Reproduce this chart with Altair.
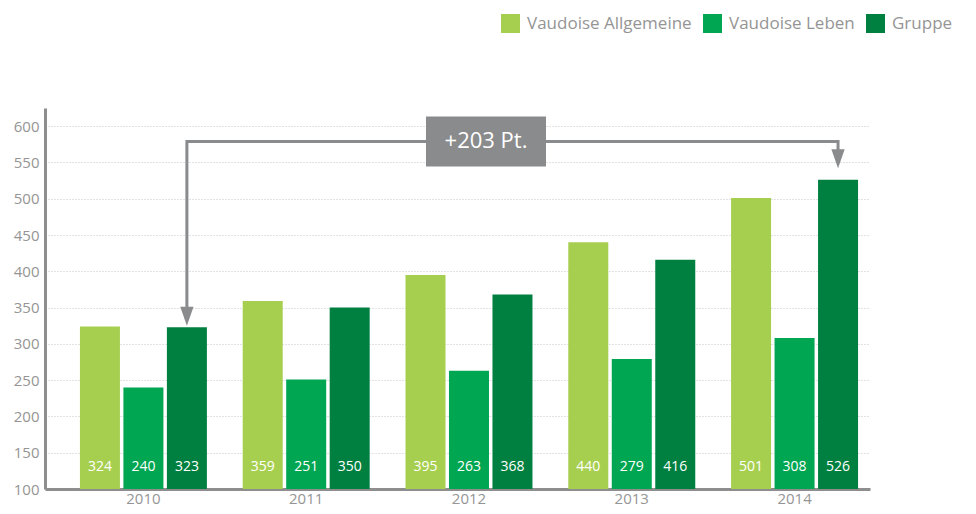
import altair as alt
import pandas as pd

years = ["2010", "2011", "2012", "2013", "2014"]
series = ["Vaudoise Allgemeine", "Vaudoise Leben", "Gruppe"]
allgemeine = [324, 359, 395, 440, 501]
leben = [240, 251, 263, 279, 308]
gruppe = [323, 350, 368, 416, 526]
colors = ["#a7cf4f", "#00a651", "#008040"]

# annotation: bracket from 2010 Gruppe to 2014 Gruppe
ann_years = ["2010", "2010", "2014", "2014"]
ann_values = [335, 579, 579, 552]
arrow_years = ["2010", "2014"]
arrow_tips = [325, 542]
ann_text = "+203 Pt."
ann_text_year = "2012"
ann_text_series = "Vaudoise Leben"
ann_text_value = 579

GRAY = "#8a8b8d"
AX = "#8e8e8e"
FONT = "Open Sans"

rows = []
for i, y in enumerate(years):
    for s, vals in zip(series, [allgemeine, leben, gruppe]):
        rows.append({"year": y, "series": s, "value": vals[i]})
df = pd.DataFrame(rows)

line_df = pd.DataFrame({"year": ann_years, "series": ["Gruppe"] * 4,
                        "value": ann_values, "order": list(range(4))})
arrow_df = pd.DataFrame({"year": arrow_years, "series": ["Gruppe"] * 2,
                         "value": arrow_tips})
label_df = pd.DataFrame({"year": [ann_text_year], "series": [ann_text_series],
                         "value": [ann_text_value], "text": [ann_text]})

W, H = 825, 381

x = alt.X("year:N", sort=years, title=None,
          scale=alt.Scale(paddingInner=0.22, paddingOuter=0.144, align=0.745),
          axis=alt.Axis(labelAngle=0, labelColor="#959595", labelFontSize=15,
                        labelFont=FONT, labelPadding=2, ticks=False,
                        domainColor=AX, domainWidth=3, grid=False))
xo = alt.XOffset("series:N", sort=series,
                 scale=alt.Scale(domain=series, paddingInner=0.08))
y = alt.Y("value:Q", title=None,
          scale=alt.Scale(domain=[100, 625], zero=False, nice=False),
          axis=alt.Axis(values=list(range(100, 601, 50)), labelColor="#959595",
                        labelFontSize=15, labelFont=FONT, labelPadding=6,
                        ticks=False, domainColor=AX, domainWidth=3,
                        grid=True, gridColor="#c4c4c4", gridDash=[1, 2],
                        gridWidth=1))

bars = alt.Chart(df).mark_bar().encode(
    x=x, xOffset=xo, y=y, y2=alt.datum(100),
    color=alt.Color("series:N", sort=series,
                    scale=alt.Scale(domain=series, range=colors),
                    legend=alt.Legend(title=None, orient="none", legendX=456,
                                      legendY=-94, direction="horizontal",
                                      symbolType="square", symbolSize=361,
                                      symbolStrokeWidth=0, symbolOpacity=1,
                                      labelFontSize=17, labelFont=FONT,
                                      labelLimit=400,
                                      labelColor="#959595", labelOffset=7,
                                      columnPadding=11)),
)

values = alt.Chart(df).mark_text(color="white", fontSize=14, font=FONT,
                                 baseline="middle").encode(
    x=x, xOffset=xo, y=alt.value(H - 22), text="value:Q")

line = alt.Chart(line_df).mark_line(color=GRAY, strokeWidth=3,
                                    strokeCap="butt", strokeJoin="miter").encode(
    x=x, xOffset=xo, y=y, order="order:Q")

arrows = alt.Chart(arrow_df).mark_point(
    shape="M-0.7,-2 L0.7,-2 L0,0 Z", size=361, filled=True, color=GRAY,
    opacity=1, strokeWidth=0).encode(x=x, xOffset=xo, y=y)

box = alt.Chart(label_df).mark_point(
    shape="M-0.86,-0.5 L1.54,-0.5 L1.54,0.5 L-0.86,0.5 Z", size=10000,
    filled=True, color=GRAY, opacity=1, strokeWidth=0).encode(
    x=x, xOffset=xo, y=y)

box_text = alt.Chart(label_df).mark_text(
    color="white", fontSize=22, font=FONT, baseline="middle", dx=17).encode(
    x=x, xOffset=xo, y=y, text="text:N")

chart = alt.layer(bars, values, line, arrows, box, box_text).properties(
    width=W, height=H,
    autosize=alt.AutoSizeParams(type="none"),
    padding={"left": 37, "top": 100, "right": 98, "bottom": 17},
).configure_view(stroke=None)

chart.save("out.html", embed_options={"renderer": "svg", "actions": False})
